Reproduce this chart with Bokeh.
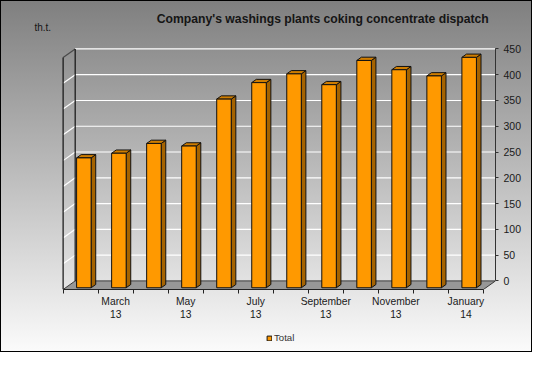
from bokeh.plotting import figure
from bokeh.layouts import column
from bokeh.models import Range1d, FixedTicker, Legend, LegendItem
from bokeh.core.properties import value
from bokeh.embed import file_html
from bokeh.resources import INLINE

# ---------------- data ----------------
months = ["Feb 13", "Mar 13", "Apr 13", "May 13", "Jun 13", "Jul 13",
          "Aug 13", "Sep 13", "Oct 13", "Nov 13", "Dec 13", "Jan 14"]
totals = [252, 261, 280, 275, 366, 398, 415, 394, 441, 423, 411, 447]
label_index = [1, 3, 5, 7, 9, 11]
label_text = ["March\n13", "May\n13", "July\n13", "September\n13", "November\n13", "January\n14"]
y_ticks = [0, 50, 100, 150, 200, 250, 300, 350, 400, 450]
title_text = "Company's washings plants coking concentrate dispatch"
unit_text = "th.t."
series_name = "Total"

# ---------------- geometry ----------------
W, H = 532, 352
H1 = 326                  # main chart height; the rest holds the legend
sx, sy = W / 548, H / 368
MB_R = 37
FH = 289
MB_B = H1 - FH
FW = W - MB_R
PXX = 36.08 * sx          # px per category slot
PXY = 0.5389 * sy         # px per value unit
X0 = 64.5 * sx            # px of front-left corner
n = len(months)
x_start = -X0 / PXX
x_end = (FW - X0) / PXX
S = x_end - n             # depth shift in x (slot units)
D = 9 * sy / PXY          # depth shift in y (value units)
y_start = -D
y_end = -D + FH / PXY
ymax = y_ticks[-1]

def X_of(rx):
    return (rx * sx - X0) / PXX

def Y_of(ry):
    return -D + (FH - ry * sy) / PXY

FONT = "Liberation Sans"

p = figure(width=W, height=H1, x_range=Range1d(x_start, x_end), y_range=Range1d(y_start, y_end),
           y_axis_location="right", output_backend="svg", toolbar_location=None,
           min_border_left=0, min_border_top=0, min_border_right=MB_R, min_border_bottom=MB_B,
           background_fill_alpha=0, border_fill_alpha=0, outline_line_color=None)
p.xgrid.visible = False
p.ygrid.visible = False

# floor
p.patch([0, n, n + S, S], [-D, -D, 0, 0], fill_color="#979797", line_color="#3a3a3a", line_width=1)

# back wall gridlines
gv = y_ticks[1:]
p.segment(x0=[S] * len(gv), y0=gv, x1=[n + S] * len(gv), y1=gv, line_color="white", line_width=1.2)
# side wall gridlines
sv = y_ticks[1:-1]
p.segment(x0=[0] * len(sv), y0=[v - D for v in sv], x1=[S] * len(sv), y1=sv,
          line_color="white", line_width=1.2)
p.segment(x0=[0], y0=[ymax - D], x1=[S], y1=[ymax], line_color="#4a4a4a", line_width=1.2)
# wall edges
p.segment(x0=[S, 0], y0=[0, -D], x1=[S, 0], y1=[ymax, ymax - D], line_color="#111111", line_width=1.2)

# bars
a, w = 0.385, 0.415
tf, tb = 0.8, 0.42
dX, dY = S * (tf - tb), D * (tf - tb)
lefts = [i + a for i in range(n)]
rights = [l + w for l in lefts]
bottoms = [-D * tf] * n
tops = [v - D * tf for v in totals]

side_xs = [[r, r, r + dX, r + dX] for r in rights]
side_ys = [[b, t, t + dY, b + dY] for b, t in zip(bottoms, tops)]
top_xs = [[l, r, r + dX, l + dX] for l, r in zip(lefts, rights)]
top_ys = [[t, t, t + dY, t + dY] for t in tops]

p.patches(side_xs, side_ys, fill_color="#a56300", line_color="#111111", line_width=1)
p.patches(top_xs, top_ys, fill_color="#cf7d00", line_color="#111111", line_width=1)
p.quad(left=lefts, right=rights, bottom=bottoms, top=tops,
       fill_color="#ff9900", line_color="#111111", line_width=1)

# titles
p.text(x=[X_of(503)], y=[Y_of(19.5)], text=[title_text], text_align="right", text_baseline="middle",
       text_font=value(FONT), text_font_style="bold", text_font_size="12.2px", text_color="#151515")
p.text(x=[X_of(35)], y=[Y_of(28.5)], text=[unit_text], text_align="left", text_baseline="middle",
       text_font=value(FONT), text_font_size="10px", text_color="#151515")

# y axis (right)
ya = p.yaxis[0]
ya.ticker = FixedTicker(ticks=y_ticks)
ya.bounds = (0, ymax)
ya.major_tick_out = 3
ya.major_tick_in = 0
ya.minor_tick_out = 0
ya.minor_tick_in = 0
ya.axis_line_color = "#333333"
ya.major_tick_line_color = "#333333"
ya.major_label_standoff = 5
ya.major_label_text_font = FONT
ya.major_label_text_font_size = "10.5px"
ya.major_label_text_color = "#1a1a1a"

# x axis (below)
xa = p.xaxis[0]
xa.ticker = FixedTicker(ticks=[i + 0.5 for i in label_index], minor_ticks=list(range(n + 1)))
xa.major_label_overrides = {i + 0.5: t for i, t in zip(label_index, label_text)}
xa.bounds = (0, n)
xa.major_tick_out = 0
xa.major_tick_in = 0
xa.minor_tick_out = 4
xa.minor_tick_in = 0
xa.axis_line_color = "#222222"
xa.minor_tick_line_color = "#222222"
xa.major_label_standoff = 2
xa.major_label_text_font = FONT
xa.major_label_text_font_size = "10.3px"
xa.major_label_text_color = "#1a1a1a"

# legend strip (its key renderer sits outside the visible range)
H2 = H - H1
q = figure(width=W, height=H2, x_range=Range1d(0, 1), y_range=Range1d(0, 1),
           x_axis_type=None, y_axis_type=None, output_backend="svg", toolbar_location=None,
           min_border=0, background_fill_alpha=0, border_fill_alpha=0, outline_line_color=None)
q.xgrid.visible = False
q.ygrid.visible = False
key = q.quad(left=[5], right=[6], bottom=[5], top=[6],
             fill_color="#ff9900", line_color="#111111", line_width=1)
legend = Legend(items=[LegendItem(label=series_name, renderers=[key], index=0)],
                location=(266, H2 - (337.6 - H1) - 6),
                glyph_width=6, glyph_height=6, label_height=12, label_standoff=2,
                padding=0, margin=0, spacing=0, border_line_color=None, background_fill_alpha=0,
                label_text_font=FONT, label_text_font_size="9.6px", label_text_color="#333333")
q.add_layout(legend)

page = column(p, q, spacing=0)
page.styles = {"background": "linear-gradient(to bottom, #7f7f7f 0%, #fbfbfb 100%)",
               "box-shadow": "inset 0 0 0 1px #000000"}

open("out.html", "w").write(file_html(page, INLINE))
